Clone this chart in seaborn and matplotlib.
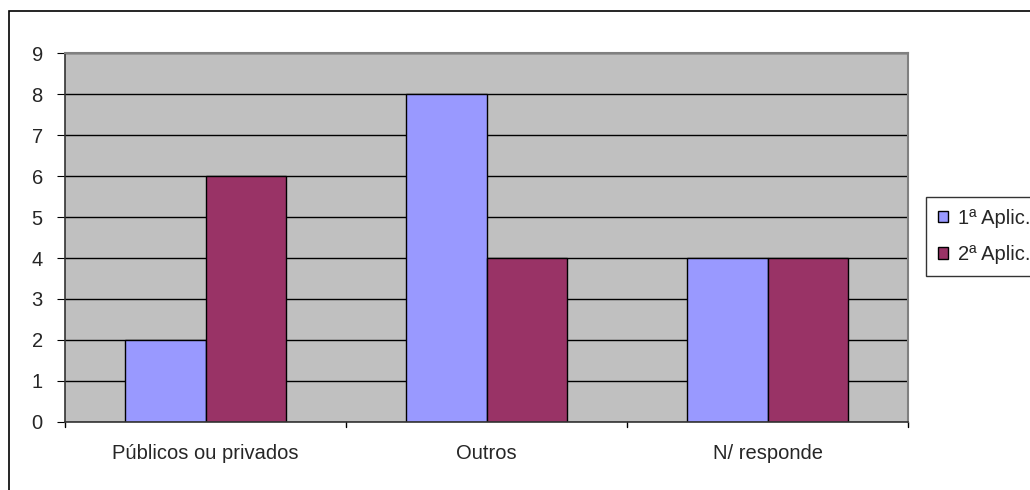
import numpy as np
import pandas as pd
import matplotlib
matplotlib.use("Agg")
import matplotlib.pyplot as plt
import seaborn as sns
from matplotlib.patches import Rectangle

categorias = ["Públicos ou privados", "Outros", "N/ responde"]
aplic_1 = [2, 8, 4]
aplic_2 = [6, 4, 4]
series = ["1ª Aplic.", "2ª Aplic."]

df = pd.DataFrame({
    "categoria": categorias * 2,
    "valor": aplic_1 + aplic_2,
    "serie": [series[0]] * 3 + [series[1]] * 3,
})

sns.set_style("white")
plt.rcParams["font.family"] = ["Liberation Sans", "DejaVu Sans"]

fig = plt.figure(figsize=(10.3, 4.9), dpi=100)
ax = fig.add_axes([0.0631, 0.1388, 0.8185, 0.753])

# outer chart border (Excel style)
fig.patches.append(Rectangle((9 / 1030, -0.1), 1.2, 1 - 11 / 490 + 0.1, transform=fig.transFigure,
                             fill=False, edgecolor="black", linewidth=1.2))

ax.set_facecolor("#C0C0C0")
ax.set_axisbelow(True)
ax.yaxis.grid(True, color="black", linewidth=1)

sns.barplot(data=df, x="categoria", y="valor", hue="serie", order=categorias,
            palette=["#9999FF", "#993366"], width=0.576, saturation=1,
            edgecolor="black", linewidth=1, ax=ax)

ax.set_xlim(-0.5, 2.5)
ax.set_ylim(0, 9)
ax.set_yticks(range(0, 10))
ax.set_xlabel("")
ax.set_ylabel("")
ax.tick_params(axis="both", labelsize=14.5, color="black")
ax.tick_params(axis="x", length=0, pad=16)
ax.tick_params(axis="y", left=True, length=6, pad=10)
# category boundary ticks
for xb in [-0.5, 0.5, 1.5, 2.5]:
    ax.plot([xb, xb], [0, -0.13], color="black", linewidth=1, clip_on=False)

for side in ["top", "right"]:
    ax.spines[side].set_color("#808080")
    ax.spines[side].set_linewidth(1.5)
for side in ["left", "bottom"]:
    ax.spines[side].set_color("#333333")
    ax.spines[side].set_linewidth(1.2)

leg = ax.legend(loc="lower left", bbox_to_anchor=(926 / 1030, (490 - 276) / 490), bbox_transform=fig.transFigure,
                fontsize=14.5, frameon=True, fancybox=False, edgecolor="black",
                handlelength=0.5, handleheight=0.5, handletextpad=0.5, borderpad=0.6,
                labelspacing=0.85, borderaxespad=0)
leg.get_frame().set_linewidth(1)

fig.savefig("out.png", dpi=100)
